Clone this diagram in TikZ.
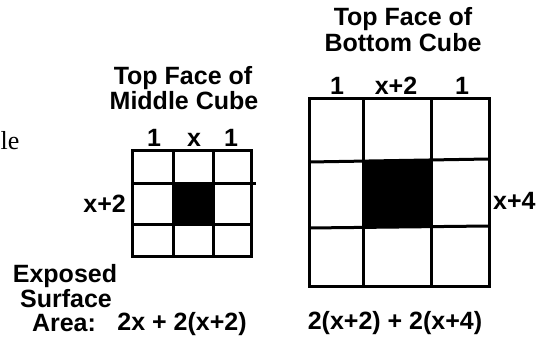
\documentclass[tikz,border=0pt]{standalone}
\usepackage{fontspec}
\setmainfont{Liberation Sans}
\newfontfamily\serifface{Liberation Serif}
\usetikzlibrary{positioning}

\begin{document}
\begin{tikzpicture}[x=1pt, y=-1pt,
  lbl/.style={font=\bfseries\fontsize{25}{25}\selectfont, inner sep=0pt, anchor=base},
  tight/.style={lbl, text height=18pt, text depth=0pt},
  face/.style={line width=3pt},
  hole/.style={fill=black},
]
\useasboundingbox (0,0) rectangle (547,339);

% cut-off word at the left edge
\node[lbl, anchor=base west, font=\serifface\fontsize{26}{26}\selectfont] (cut) at (0.5,150) {le};

% middle cube
\node[tight] (midtitleA) at (183,85)  {Top Face of};
\node[tight] (midtitleB) at (184,110) {Middle Cube};
\node[lbl] (midone)  at (154,147) {1};
\node[lbl] (midx)    at (194,147) {x};
\node[lbl] (midtwo)  at (231,147) {1};
\node[lbl, anchor=base east] (midside) at (126,213) {x+2};

\fill[hole] (173,184) rectangle (213,225);
\draw[face] (132,151) rectangle (251,257);
\draw[face] (173,151) -- (173,257);
\draw[face] (213,151) -- (213,257);
\draw[face] (132,184) -- (256,184);
\draw[face] (132,225) -- (251,225);

% bottom cube
\node[tight] (bottitleA) at (403,26) {Top Face of};
\node[tight] (bottitleB) at (403,52) {Bottom Cube};
\node[lbl] (botone)  at (337,95) {1};
\node[lbl] (botx)    at (396,95) {x+2};
\node[lbl] (bottwo)  at (462,95) {1};
\node[lbl, anchor=base west] (botside) at (493,210) {x+4};

\fill[hole] (363,161) rectangle (431,227);
\draw[face] (309,99) rectangle (489,287);
\draw[face] (363,99) -- (363,287);
\draw[face] (431,99) -- (431,287);
\draw[face] (309,162) -- (489,159);
\draw[face] (309,228) -- (489,226);

% areas
\node[tight] (expA) at (65,283) {Exposed};
\node[tight] (expB) at (66,308) {Surface};
\node[tight] (expC) at (64,332) {Area:};
\node[lbl] (midarea) at (182,331) {2x + 2(x+2)};
\node[lbl] (botarea) at (395,330) {2(x+2) + 2(x+4)};
\end{tikzpicture}
\end{document}
